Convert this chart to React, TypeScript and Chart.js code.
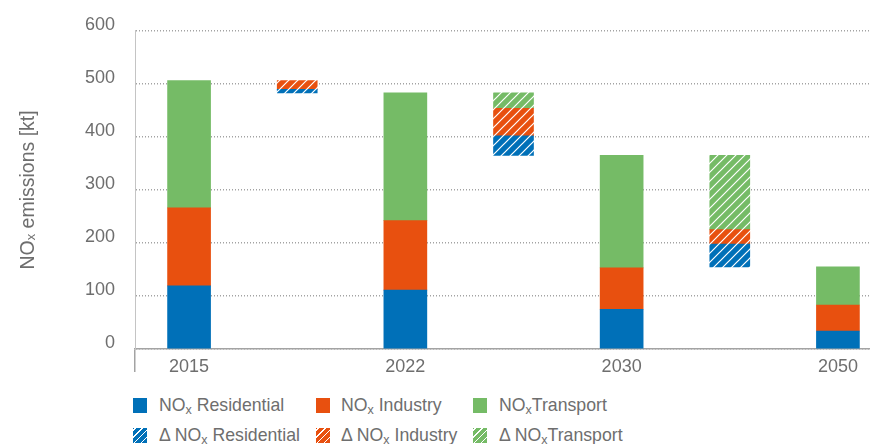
import React, { useEffect, useRef } from 'react';
import { Chart, registerables } from 'chart.js';

Chart.register(...registerables);

// Categories (empty slots hold the change bars between the years)
const categories = ['2015', '', '2022', '', '2030', '', '2050'];
const yearSlots = [0, 2, 4, 6];
const deltaSlots = [1, 3, 5];

// NOx emissions [kt] per sector and year
const residential = [119, 111, 75, 34];
const industry = [147, 131, 78, 49];
const transport = [240, 241, 212, 72];

// Reductions between consecutive years [kt]
const dResidential = [6.5, 37, 43];
const dIndustry = [16.5, 52, 27];
const dTransport = [0, 29, 140];

const yMin = 0;
const yMax = 600;
const yStep = 100;

const BLUE = '#0070b8';
const ORANGE = '#e8500f';
const GREEN = '#75bb66';
const GRAY_TEXT = '#6e6e6e';
const GRID = '#a3a3a3';
const FONT = '"Liberation Sans", Arial, Helvetica, sans-serif';

function hatch(color: string): CanvasPattern | string {
  const s = 9;
  const c = document.createElement('canvas');
  c.width = s;
  c.height = s;
  const g = c.getContext('2d');
  if (!g) return color;
  g.fillStyle = color;
  g.fillRect(0, 0, s, s);
  g.strokeStyle = '#ffffff';
  g.lineWidth = 1.2;
  g.beginPath();
  g.moveTo(-1, s + 1);
  g.lineTo(s + 1, -1);
  g.moveTo(-2, 2);
  g.lineTo(2, -2);
  g.moveTo(s - 2, s + 2);
  g.lineTo(s + 2, s - 2);
  g.stroke();
  const p = g.createPattern(c, 'repeat');
  return p || color;
}

function buildData() {
  const n = categories.length;
  const empty = () => new Array(n).fill(null) as ([number, number] | null)[];
  const res = empty(), ind = empty(), tra = empty();
  const dres = empty(), dind = empty(), dtra = empty();
  const totals = yearSlots.map((_, i) => residential[i] + industry[i] + transport[i]);
  yearSlots.forEach((slot, i) => {
    const a = residential[i];
    const b = a + industry[i];
    const c = b + transport[i];
    res[slot] = [0, a];
    ind[slot] = [a, b];
    tra[slot] = [b, c];
  });
  deltaSlots.forEach((slot, j) => {
    const base = totals[j + 1];
    const a = base + dResidential[j];
    const b = a + dIndustry[j];
    const c = b + dTransport[j];
    if (dResidential[j] > 0) dres[slot] = [base, a];
    if (dIndustry[j] > 0) dind[slot] = [a, b];
    if (dTransport[j] > 0) dtra[slot] = [b, c];
  });
  return { res, ind, tra, dres, dind, dtra };
}

const legendItems = [
  { label: 'Residential', color: BLUE, hatched: false, delta: false, space: true },
  { label: 'Industry', color: ORANGE, hatched: false, delta: false, space: true },
  { label: 'Transport', color: GREEN, hatched: false, delta: false, space: false },
  { label: 'Residential', color: BLUE, hatched: true, delta: true, space: true },
  { label: 'Industry', color: ORANGE, hatched: true, delta: true, space: true },
  { label: 'Transport', color: GREEN, hatched: true, delta: true, space: false },
];
const legendBoxX = [133, 316, 473];
const legendTextX = [159, 341, 499];
const legendRowY = [405, 435];

export default function App() {
  const ref = useRef<HTMLCanvasElement | null>(null);

  useEffect(() => {
    if (!ref.current) return;
    const d = buildData();
    const mainThickness = 43;
    const deltaThickness = 40;
    const chart = new Chart(ref.current, {
      type: 'bar',
      data: {
        labels: categories,
        datasets: [
          { label: 'NOx Residential', data: d.res as any, backgroundColor: BLUE, barThickness: mainThickness },
          { label: 'NOx Industry', data: d.ind as any, backgroundColor: ORANGE, barThickness: mainThickness },
          { label: 'NOx Transport', data: d.tra as any, backgroundColor: GREEN, barThickness: mainThickness },
          { label: 'Δ NOx Residential', data: d.dres as any, backgroundColor: hatch(BLUE) as any, barThickness: deltaThickness },
          { label: 'Δ NOx Industry', data: d.dind as any, backgroundColor: hatch(ORANGE) as any, barThickness: deltaThickness },
          { label: 'Δ NOx Transport', data: d.dtra as any, backgroundColor: hatch(GREEN) as any, barThickness: deltaThickness },
        ],
      },
      options: {
        animation: false,
        responsive: false,
        maintainAspectRatio: false,
        layout: { padding: { top: 29, left: 0, right: 0, bottom: 0 } },
        plugins: {
          legend: { display: false },
          tooltip: { enabled: false },
        },
        scales: {
          x: {
            stacked: true,
            offset: true,
            grid: {
              display: true,
              drawOnChartArea: false,
              drawTicks: true,
              tickLength: 23,
              lineWidth: 1.5,
              color: (c: any) => (c.index === 0 ? GRID : 'rgba(0,0,0,0)'),
            },
            border: { display: true, color: GRID, width: 1.5 },
            ticks: {
              color: GRAY_TEXT,
              font: { family: FONT, size: 18 },
              padding: -16,
              autoSkip: false,
              maxRotation: 0,
            },
            afterFit: (s: any) => {
              s.height = 40;
            },
          },
          y: {
            min: yMin,
            max: yMax,
            ticks: {
              stepSize: yStep,
              padding: 20,
              labelOffset: -6,
              color: GRAY_TEXT,
              font: { family: FONT, size: 18 },
            },
            grid: { color: GRID, lineWidth: 1.5, drawTicks: false },
            border: { display: true, color: '#c4c4c4', dash: [1, 2], width: 1 },
            title: {
              display: true,
              text: 'NOₓ emissions [kt]',
              color: GRAY_TEXT,
              font: { family: FONT, size: 19.5 },
              padding: { top: 17, bottom: 0 },
            },
            afterFit: (s: any) => {
              s.width = 135;
            },
          },
        },
      },
    });
    return () => chart.destroy();
  }, []);

  return (
    <div
      style={{
        position: 'fixed',
        left: 0,
        top: 0,
        width: 870,
        height: 444,
        overflow: 'hidden',
        background: '#ffffff',
        fontFamily: FONT,
      }}
    >
      <canvas
        ref={ref}
        width={892}
        height={389}
        style={{ position: 'absolute', left: 0, top: 0, width: 892, height: 389 }}
      />
      {legendItems.map((it, i) => {
        const col = i % 3;
        const row = Math.floor(i / 3);
        const cy = legendRowY[row];
        const bg = it.hatched
          ? `repeating-linear-gradient(-45deg, ${it.color} 0px, ${it.color} 3.6px, #ffffff 3.6px, #ffffff 4.9px)`
          : it.color;
        return (
          <React.Fragment key={i}>
            <div
              style={{
                position: 'absolute',
                left: legendBoxX[col],
                top: cy - 7.5,
                width: 14,
                height: 15,
                background: bg,
              }}
            />
            <div
              style={{
                position: 'absolute',
                left: legendTextX[col],
                top: cy - 11,
                height: 22,
                lineHeight: '22px',
                fontSize: 17.7,
                color: GRAY_TEXT,
                whiteSpace: 'nowrap',
              }}
            >
              {it.delta ? 'Δ ' : ''}NO
              <sub style={{ fontSize: 12.5, verticalAlign: 'baseline', position: 'relative', top: 3 }}>x</sub>
              {it.space ? ' ' : ''}
              {it.label}
            </div>
          </React.Fragment>
        );
      })}
    </div>
  );
}
